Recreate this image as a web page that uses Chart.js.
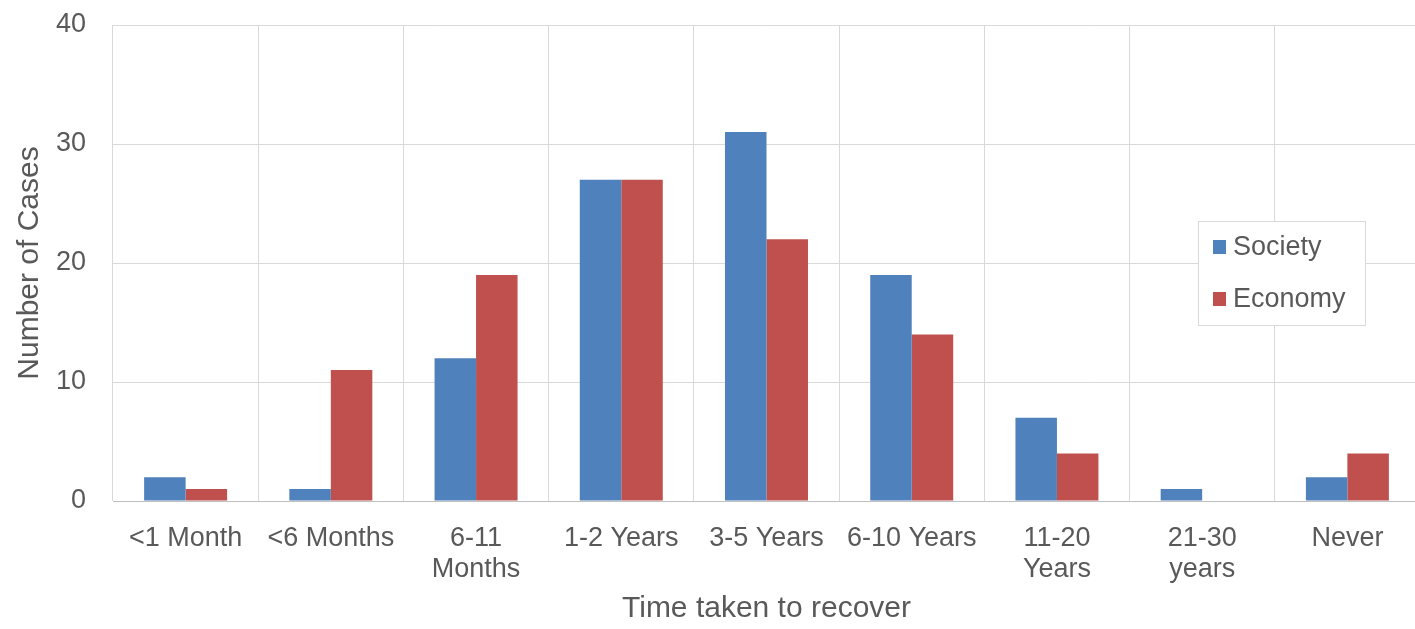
<!DOCTYPE html>
<html>
<head>
<meta charset="utf-8">
<script src="https://cdn.jsdelivr.net/npm/chart.js@4.4.0/dist/chart.umd.min.js"></script>
<style>
  html, body { margin: 0; padding: 0; background: #ffffff; overflow: hidden; }
  #wrap { position: relative; width: 1425px; height: 629px; }
</style>
</head>
<body>
<div id="wrap"><canvas id="chart"></canvas></div>
<script>
// Recovery time categories
const categories = [
  '<1 Month', '<6 Months', ['6-11', 'Months'], '1-2 Years', '3-5 Years',
  '6-10 Years', ['11-20', 'Years'], ['21-30', 'years'], 'Never'
];
// Number of cases per category
const societyCases = [2, 1, 12, 27, 31, 19, 7, 1, 2];
const economyCases = [1, 11, 19, 27, 22, 14, 4, 0, 4];
const yTicks = [0, 10, 20, 30, 40];

const TEXT = '#595959';
const GRID = '#d9d9d9';
const FONT = "'Liberation Sans', Arial, sans-serif";

// Boxed legend drawn inside the plot area
const boxLegend = {
  id: 'boxLegend',
  afterDraw(chart) {
    const ctx = chart.ctx;
    const x0 = 1198, y0 = 221, w = 167, h = 104;
    ctx.save();
    ctx.fillStyle = '#ffffff';
    ctx.fillRect(x0, y0, w, h);
    ctx.strokeStyle = GRID;
    ctx.lineWidth = 1;
    ctx.strokeRect(x0 + 0.5, y0 + 0.5, w, h);
    ctx.font = '27px ' + FONT;
    ctx.textBaseline = 'alphabetic';
    ctx.textAlign = 'left';
    chart.data.datasets.forEach((ds, i) => {
      const rowY = y0 + 34 + i * 52;
      ctx.fillStyle = ds.backgroundColor;
      ctx.fillRect(x0 + 15, rowY - 15, 13, 14);
      ctx.fillStyle = TEXT;
      ctx.fillText(ds.label, x0 + 35, rowY);
    });
    ctx.restore();
  }
};

new Chart(document.getElementById('chart'), {
  type: 'bar',
  data: {
    labels: categories,
    datasets: [
      { label: 'Society', data: societyCases, backgroundColor: '#4F81BD' },
      { label: 'Economy', data: economyCases, backgroundColor: '#C0504D' }
    ]
  },
  options: {
    responsive: true,
    maintainAspectRatio: false,
    animation: false,
    events: [],
    categoryPercentage: 2 / 3.5,
    barPercentage: 1,
    layout: { padding: { top: 25, left: 0, right: 5, bottom: 0 } },
    plugins: {
      legend: { display: false },
      tooltip: { enabled: false }
    },
    scales: {
      x: {
        grid: { color: GRID, drawTicks: false, offset: true },
        border: { color: '#bfbfbf', width: 1 },
        ticks: {
          color: TEXT,
          padding: 22,
          maxRotation: 0,
          autoSkip: false,
          font: { family: FONT, size: 27, lineHeight: 1.15 }
        },
        title: {
          display: true,
          text: 'Time taken to recover',
          color: TEXT,
          padding: { top: 0, bottom: 2 },
          font: { family: FONT, size: 30 }
        },
        afterFit(scale) { scale.height = 128; }
      },
      y: {
        min: 0,
        max: 40,
        afterBuildTicks(scale) { scale.ticks = yTicks.map(v => ({ value: v })); },
        grid: { color: GRID, drawTicks: false },
        border: { display: false },
        ticks: {
          color: TEXT,
          padding: 27,
          font: { family: FONT, size: 27 }
        },
        title: {
          display: true,
          text: 'Number of Cases',
          color: TEXT,
          padding: { top: 12, bottom: 0 },
          font: { family: FONT, size: 30 }
        },
        afterFit(scale) {
          scale.width = 113;
          scale.paddingTop = 0;
          scale.paddingBottom = 0;
        }
      }
    }
  },
  plugins: [boxLegend]
});
</script>
</body>
</html>
